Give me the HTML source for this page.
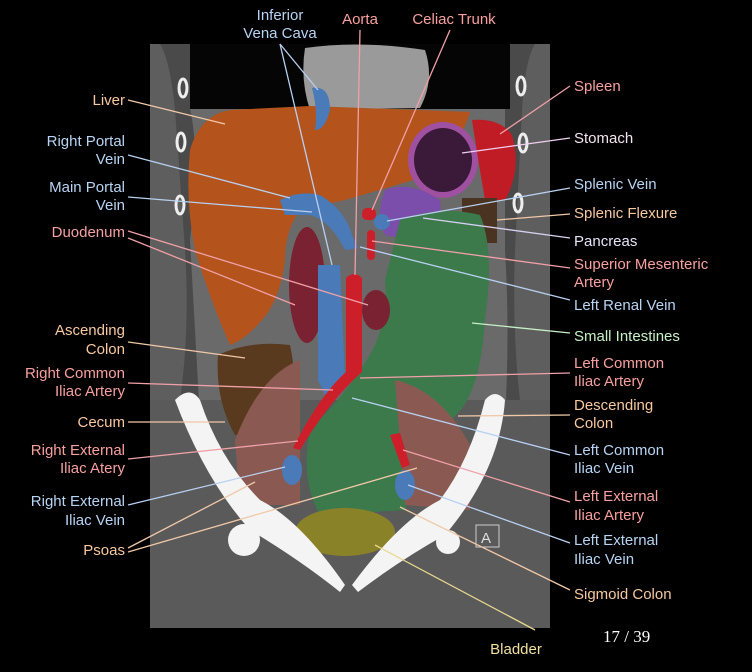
<!DOCTYPE html>
<html><head><meta charset="utf-8"><style>
html,body{margin:0;padding:0;background:#000;}
svg{display:block}
text{font-family:"Liberation Sans",sans-serif;font-size:15px;}
</style></head><body>
<svg width="752" height="672" viewBox="0 0 752 672" xmlns="http://www.w3.org/2000/svg">
<rect width="752" height="672" fill="#000"/>
<!-- CT field -->
<rect x="150" y="44" width="400" height="584" fill="#4a4a4a"/>
<rect x="190" y="44" width="320" height="65" fill="#050505"/>
<path d="M150 44 H160 Q170 60 175 110 L185 250 Q190 330 180 400 L150 400Z" fill="#5e5e5e"/>
<path d="M550 44 H535 Q525 60 522 110 L515 250 Q512 330 520 400 L550 400Z" fill="#5e5e5e"/>
<path d="M190 109 Q200 150 190 240 Q195 330 200 420 L505 420 Q510 330 505 250 L505 109Z" fill="#6a6a6a"/>
<rect x="150" y="400" width="400" height="228" fill="#5a5a5a"/>
<!-- heart -->
<path d="M305 48 Q360 40 425 50 Q435 80 420 108 L310 110 Q300 80 305 48Z" fill="#9a9a9a"/>
<!-- ribs -->
<g fill="none" stroke="#eee" stroke-width="3">
<ellipse cx="183" cy="88" rx="4" ry="9"/><ellipse cx="181" cy="142" rx="4" ry="9"/><ellipse cx="180" cy="205" rx="4" ry="9"/>
<ellipse cx="521" cy="86" rx="4" ry="9"/><ellipse cx="523" cy="143" rx="4" ry="9"/><ellipse cx="518" cy="203" rx="4" ry="9"/>
</g>
<!-- liver -->
<path d="M190 150 Q200 115 230 110 L310 106 L470 112 Q455 160 420 178 Q380 190 345 200 L300 210 Q285 230 285 260 Q280 300 262 320 Q245 340 230 345 Q210 300 195 250 Q185 200 190 150Z" fill="#b4531c"/>
<!-- stomach -->
<ellipse cx="443" cy="160" rx="35" ry="38" fill="#a050a0"/>
<ellipse cx="443" cy="160" rx="29" ry="32" fill="#3a1a38"/>
<!-- spleen -->
<path d="M472 120 Q500 118 512 135 Q522 170 505 200 L485 200 Q478 160 472 120Z" fill="#c01c25"/>
<!-- pancreas -->
<path d="M385 190 Q410 180 440 200 Q445 225 410 240 L385 235 Q375 215 385 190Z" fill="#7a4eaa"/>
<!-- splenic flexure -->
<rect x="462" y="198" width="35" height="45" fill="#4a3320"/>
<!-- small intestines -->
<path d="M400 220 Q440 205 480 215 Q495 250 485 320 Q480 400 450 420 L420 420 Q420 470 405 510 L320 515 Q300 480 310 430 Q340 400 360 370 Q390 330 385 280Z" fill="#3c7a4c"/>
<!-- ascending colon / cecum -->
<path d="M218 355 Q250 340 290 345 Q300 390 285 430 L235 435 Q215 400 218 355Z" fill="#5a3a1e"/>
<!-- psoas -->
<path d="M235 440 Q260 375 300 360 L300 505 L240 505Z" fill="#8a5a52"/>
<path d="M395 380 Q440 390 470 445 L470 510 L405 505Z" fill="#8a5a52"/>
<!-- duodenum/kidney -->
<ellipse cx="307" cy="285" rx="18" ry="58" fill="#7a2232"/>
<ellipse cx="376" cy="310" rx="14" ry="20" fill="#7a2232"/>
<!-- portal veins -->
<path d="M280 200 Q300 190 320 195 Q345 210 352 235 L358 248 L345 250 Q330 220 310 215 L285 215Z" fill="#4a7ab8"/>
<path d="M312 88 Q330 85 330 110 Q325 130 315 130 Q318 110 312 88Z" fill="#4a7ab8"/>
<circle cx="382" cy="222" r="8" fill="#4a7ab8"/>
<!-- IVC -->
<path d="M318 265 L340 265 L345 380 Q340 400 325 395 L318 380Z" fill="#4a7ab8"/>
<ellipse cx="292" cy="470" rx="10" ry="15" fill="#4a7ab8"/>
<ellipse cx="405" cy="485" rx="10" ry="15" fill="#4a7ab8"/>
<!-- aorta -->
<path d="M346 278 Q354 270 362 278 L362 372 Q330 400 300 450 L293 448 Q320 395 346 372Z" fill="#cc1f2a"/>
<rect x="367" y="230" width="8" height="30" rx="4" fill="#cc1f2a"/>
<rect x="362" y="208" width="14" height="12" rx="5" fill="#cc1f2a"/>
<path d="M390 435 L400 433 L410 465 L402 468Z" fill="#cc1f2a"/>
<!-- bladder -->
<ellipse cx="345" cy="532" rx="50" ry="24" fill="#8a8228"/>
<!-- pelvis -->
<g fill="#f4f4f4">
<path d="M175 400 Q190 385 200 400 Q220 460 260 500 Q300 520 345 585 L340 592 Q300 560 250 530 Q205 480 175 400Z"/>
<path d="M505 400 Q495 388 485 400 Q470 460 440 500 Q400 520 352 585 L358 592 Q400 560 445 535 Q500 470 505 400Z"/>
<circle cx="244" cy="540" r="16"/><circle cx="448" cy="542" r="12"/>
</g>
<rect x="476" y="525" width="23" height="22" fill="none" stroke="#ccc" stroke-width="1"/>
<text x="481" y="543" fill="#ddd" font-size="16">A</text>
<!-- leader lines -->
<g stroke-width="1.3" fill="none">
<g stroke="#b8d0f0">
<line x1="280" y1="44" x2="318" y2="90"/><line x1="280" y1="44" x2="332" y2="265"/>
<line x1="128" y1="155" x2="290" y2="198"/><line x1="128" y1="197" x2="312" y2="212"/>
<line x1="128" y1="505" x2="285" y2="467"/>
<line x1="570" y1="188" x2="387" y2="221"/><line x1="570" y1="300" x2="360" y2="247"/>
<line x1="570" y1="455" x2="352" y2="398"/><line x1="570" y1="543" x2="408" y2="485"/>
</g>
<g stroke="#f0a0a8">
<line x1="360" y1="30" x2="355" y2="275"/><line x1="450" y1="30" x2="372" y2="210"/>
<line x1="128" y1="238" x2="295" y2="305"/><line x1="128" y1="231" x2="368" y2="305"/>
<line x1="128" y1="383" x2="333" y2="390"/><line x1="128" y1="459" x2="298" y2="441"/>
<line x1="570" y1="86" x2="500" y2="134"/><line x1="570" y1="268" x2="372" y2="241"/>
<line x1="570" y1="373" x2="360" y2="378"/><line x1="570" y1="502" x2="403" y2="450"/>
</g>
<g stroke="#f0c8a8">
<line x1="128" y1="100" x2="225" y2="124"/><line x1="128" y1="342" x2="245" y2="358"/>
<line x1="128" y1="422" x2="225" y2="422"/>
<line x1="128" y1="548" x2="255" y2="482"/><line x1="128" y1="552" x2="417" y2="468"/>
<line x1="570" y1="214" x2="497" y2="220"/><line x1="570" y1="415" x2="458" y2="416"/>
<line x1="570" y1="590" x2="400" y2="507"/>
</g>
<line x1="535" y1="630" x2="375" y2="545" stroke="#e8d890"/>
<line x1="570" y1="138" x2="462" y2="153" stroke="#f0d0f0"/>
<line x1="570" y1="238" x2="423" y2="218" stroke="#d8d0f0"/>
<line x1="570" y1="333" x2="472" y2="323" stroke="#c8f0c8"/>
</g>
<!-- labels -->
<g text-anchor="end">
<text x="125" y="105" fill="#f8c8a0">Liver</text>
<text x="125" y="146" fill="#b8d4f4">Right Portal</text><text x="125" y="164" fill="#b8d4f4">Vein</text>
<text x="125" y="192" fill="#b8d4f4">Main Portal</text><text x="125" y="210" fill="#b8d4f4">Vein</text>
<text x="125" y="237" fill="#f8a0a0">Duodenum</text>
<text x="125" y="335" fill="#f8c8a0">Ascending</text><text x="125" y="354" fill="#f8c8a0">Colon</text>
<text x="125" y="378" fill="#f8a0a0">Right Common</text><text x="125" y="396" fill="#f8a0a0">Iliac Artery</text>
<text x="125" y="427" fill="#f8c8a0">Cecum</text>
<text x="125" y="455" fill="#f8a0a0">Right External</text><text x="125" y="473" fill="#f8a0a0">Iliac Atery</text>
<text x="125" y="506" fill="#b8d4f4">Right External</text><text x="125" y="525" fill="#b8d4f4">Iliac Vein</text>
<text x="125" y="555" fill="#f8c8a0">Psoas</text>
</g>
<g text-anchor="middle">
<text x="280" y="20" fill="#b8d4f4">Inferior</text><text x="280" y="38" fill="#b8d4f4">Vena Cava</text>
<text x="360" y="24" fill="#f8a0a0">Aorta</text>
<text x="454" y="24" fill="#f8a0a0">Celiac Trunk</text>
<text x="516" y="654" fill="#f0e0a0">Bladder</text>
</g>
<g>
<text x="574" y="91" fill="#f8a0a0">Spleen</text>
<text x="574" y="143" fill="#f4e4f0">Stomach</text>
<text x="574" y="189" fill="#b8d4f4">Splenic Vein</text>
<text x="574" y="218" fill="#f8c8a0">Splenic Flexure</text>
<text x="574" y="246" fill="#e8e4f8">Pancreas</text>
<text x="574" y="269" fill="#f8a0a0">Superior Mesenteric</text><text x="574" y="287" fill="#f8a0a0">Artery</text>
<text x="574" y="310" fill="#b8d4f4">Left Renal Vein</text>
<text x="574" y="341" fill="#c8f0c8">Small Intestines</text>
<text x="574" y="368" fill="#f8a0a0">Left Common</text><text x="574" y="386" fill="#f8a0a0">Iliac Artery</text>
<text x="574" y="410" fill="#f8c8a0">Descending</text><text x="574" y="428" fill="#f8c8a0">Colon</text>
<text x="574" y="455" fill="#b8d4f4">Left Common</text><text x="574" y="473" fill="#b8d4f4">Iliac Vein</text>
<text x="574" y="501" fill="#f8a0a0">Left External</text><text x="574" y="520" fill="#f8a0a0">Iliac Artery</text>
<text x="574" y="545" fill="#b8d4f4">Left External</text><text x="574" y="564" fill="#b8d4f4">Iliac Vein</text>
<text x="574" y="599" fill="#f8c8a0">Sigmoid Colon</text>
</g>
<text x="603" y="642" fill="#fff" style="font-family:'Liberation Serif',serif;font-size:17px">17 / 39</text>
</svg>
</body></html>
